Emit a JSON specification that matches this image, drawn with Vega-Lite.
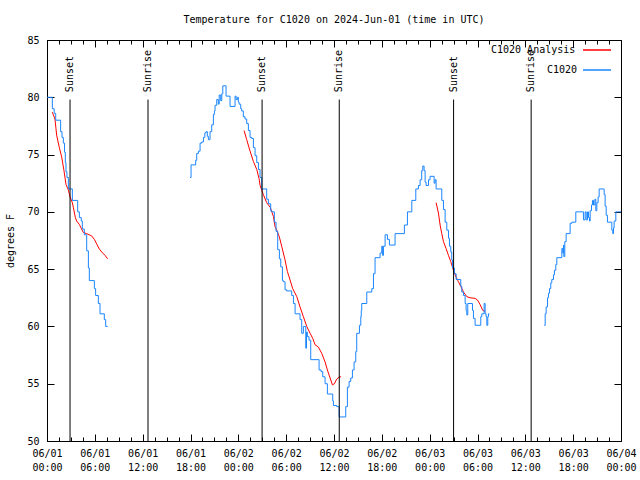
{
"$schema": "https://vega.github.io/schema/vega-lite/v6.json",
"autosize": {"type": "none"},
"padding": {"left": 47, "top": 40, "right": 19, "bottom": 39},
"width": 574,
"height": 401,
"background": "white",
"title": {"text": "Temperature for C1020 on 2024-Jun-01 (time in UTC)", "font": "DejaVu Sans Mono", "fontSize": 10, "fontWeight": "normal", "color": "black", "anchor": "middle", "frame": "group", "offset": 10},
"config": {
  "view": {"stroke": "black", "strokeWidth": 1},
  "axis": {"labelFont": "DejaVu Sans Mono", "labelFontSize": 10, "labelColor": "black", "titleFont": "DejaVu Sans Mono", "titleFontSize": 10, "titleFontWeight": "normal", "titleColor": "black", "domainColor": "black", "tickColor": "black", "grid": false, "tickWidth": 1, "domainWidth": 1, "labelFlush": false, "labelOverlap": false},
  "legend": {"labelFont": "DejaVu Sans Mono", "labelFontSize": 10, "labelColor": "black"}
},
"datasets": {
  "sun": [
    {"h": 2.89, "ev": "Sunset"}, {"h": 12.67, "ev": "Sunrise"},
    {"h": 26.98, "ev": "Sunset"}, {"h": 36.66, "ev": "Sunrise"},
    {"h": 51.0, "ev": "Sunset"}, {"h": 60.73, "ev": "Sunrise"}
  ],
  "temps": [
    {"n":"C1020 Analysis","g":"r1","h":0.67,"t":78.7},{"n":"C1020 Analysis","g":"r1","h":1.0,"t":78.1},{"n":"C1020 Analysis","g":"r1","h":1.21,"t":76.7},{"n":"C1020 Analysis","g":"r1","h":1.55,"t":75.6},{"n":"C1020 Analysis","g":"r1","h":1.84,"t":74.8},{"n":"C1020 Analysis","g":"r1","h":2.13,"t":73.6},{"n":"C1020 Analysis","g":"r1","h":2.38,"t":72.4},{"n":"C1020 Analysis","g":"r1","h":2.68,"t":71.9},{"n":"C1020 Analysis","g":"r1","h":2.89,"t":71.3},{"n":"C1020 Analysis","g":"r1","h":3.18,"t":70.8},{"n":"C1020 Analysis","g":"r1","h":3.3,"t":70.4},{"n":"C1020 Analysis","g":"r1","h":3.56,"t":69.5},{"n":"C1020 Analysis","g":"r1","h":3.72,"t":69.2},{"n":"C1020 Analysis","g":"r1","h":4.06,"t":68.9},{"n":"C1020 Analysis","g":"r1","h":4.27,"t":68.6},{"n":"C1020 Analysis","g":"r1","h":4.56,"t":68.2},{"n":"C1020 Analysis","g":"r1","h":4.98,"t":68.1},{"n":"C1020 Analysis","g":"r1","h":5.6,"t":67.9},{"n":"C1020 Analysis","g":"r1","h":5.94,"t":67.6},{"n":"C1020 Analysis","g":"r1","h":6.23,"t":67.2},{"n":"C1020 Analysis","g":"r1","h":6.57,"t":66.75},{"n":"C1020 Analysis","g":"r1","h":6.86,"t":66.5},{"n":"C1020 Analysis","g":"r1","h":7.28,"t":66.2},{"n":"C1020 Analysis","g":"r1","h":7.61,"t":65.9},
    {"n":"C1020 Analysis","g":"r2","h":24.72,"t":77.1},{"n":"C1020 Analysis","g":"r2","h":25.05,"t":76.3},{"n":"C1020 Analysis","g":"r2","h":25.47,"t":75.3},{"n":"C1020 Analysis","g":"r2","h":25.89,"t":74.4},{"n":"C1020 Analysis","g":"r2","h":26.31,"t":73.7},{"n":"C1020 Analysis","g":"r2","h":26.6,"t":72.9},{"n":"C1020 Analysis","g":"r2","h":26.73,"t":72.3},{"n":"C1020 Analysis","g":"r2","h":27.14,"t":71.5},{"n":"C1020 Analysis","g":"r2","h":27.56,"t":70.8},{"n":"C1020 Analysis","g":"r2","h":28.0,"t":70.4},{"n":"C1020 Analysis","g":"r2","h":28.4,"t":69.6},{"n":"C1020 Analysis","g":"r2","h":28.61,"t":68.7},{"n":"C1020 Analysis","g":"r2","h":28.82,"t":68.4},{"n":"C1020 Analysis","g":"r2","h":29.15,"t":67.8},{"n":"C1020 Analysis","g":"r2","h":29.44,"t":67.0},{"n":"C1020 Analysis","g":"r2","h":29.86,"t":65.8},{"n":"C1020 Analysis","g":"r2","h":30.15,"t":64.8},{"n":"C1020 Analysis","g":"r2","h":30.49,"t":64.05},{"n":"C1020 Analysis","g":"r2","h":30.82,"t":63.3},{"n":"C1020 Analysis","g":"r2","h":31.33,"t":62.6},{"n":"C1020 Analysis","g":"r2","h":31.74,"t":61.7},{"n":"C1020 Analysis","g":"r2","h":32.16,"t":60.85},{"n":"C1020 Analysis","g":"r2","h":32.58,"t":60.0},{"n":"C1020 Analysis","g":"r2","h":33.0,"t":59.4},{"n":"C1020 Analysis","g":"r2","h":33.33,"t":58.96},{"n":"C1020 Analysis","g":"r2","h":33.63,"t":58.4},{"n":"C1020 Analysis","g":"r2","h":34.04,"t":58.2},{"n":"C1020 Analysis","g":"r2","h":34.46,"t":57.65},{"n":"C1020 Analysis","g":"r2","h":34.88,"t":56.9},{"n":"C1020 Analysis","g":"r2","h":35.17,"t":56.2},{"n":"C1020 Analysis","g":"r2","h":35.51,"t":55.5},{"n":"C1020 Analysis","g":"r2","h":35.8,"t":54.9},{"n":"C1020 Analysis","g":"r2","h":36.05,"t":55.0},{"n":"C1020 Analysis","g":"r2","h":36.34,"t":55.4},{"n":"C1020 Analysis","g":"r2","h":36.68,"t":55.6},{"n":"C1020 Analysis","g":"r2","h":36.89,"t":55.6},
    {"n":"C1020 Analysis","g":"r3","h":48.81,"t":70.8},{"n":"C1020 Analysis","g":"r3","h":49.1,"t":69.9},{"n":"C1020 Analysis","g":"r3","h":49.31,"t":68.85},{"n":"C1020 Analysis","g":"r3","h":49.52,"t":68.1},{"n":"C1020 Analysis","g":"r3","h":49.73,"t":67.4},{"n":"C1020 Analysis","g":"r3","h":50.06,"t":66.8},{"n":"C1020 Analysis","g":"r3","h":50.36,"t":66.2},{"n":"C1020 Analysis","g":"r3","h":50.65,"t":65.65},{"n":"C1020 Analysis","g":"r3","h":50.98,"t":64.9},{"n":"C1020 Analysis","g":"r3","h":51.32,"t":64.3},{"n":"C1020 Analysis","g":"r3","h":51.61,"t":63.9},{"n":"C1020 Analysis","g":"r3","h":51.9,"t":63.5},{"n":"C1020 Analysis","g":"r3","h":52.24,"t":63.0},{"n":"C1020 Analysis","g":"r3","h":52.66,"t":62.6},{"n":"C1020 Analysis","g":"r3","h":53.07,"t":62.5},{"n":"C1020 Analysis","g":"r3","h":53.7,"t":62.45},{"n":"C1020 Analysis","g":"r3","h":54.0,"t":62.3},{"n":"C1020 Analysis","g":"r3","h":54.33,"t":61.9},{"n":"C1020 Analysis","g":"r3","h":54.66,"t":61.4},{"n":"C1020 Analysis","g":"r3","h":54.96,"t":61.3},
    {"n":"C1020","g":"b1","h":0,"t":80},{"n":"C1020","g":"b1","h":0.67,"t":79},{"n":"C1020","g":"b1","h":0.9,"t":78.6},{"n":"C1020","g":"b1","h":1.09,"t":78},{"n":"C1020","g":"b1","h":1.71,"t":77},{"n":"C1020","g":"b1","h":1.88,"t":76.5},{"n":"C1020","g":"b1","h":2.05,"t":76},{"n":"C1020","g":"b1","h":2.2,"t":75.2},{"n":"C1020","g":"b1","h":2.3,"t":74.3},{"n":"C1020","g":"b1","h":2.38,"t":73.5},{"n":"C1020","g":"b1","h":2.5,"t":73},{"n":"C1020","g":"b1","h":2.68,"t":72},{"n":"C1020","g":"b1","h":3.18,"t":71},{"n":"C1020","g":"b1","h":3.85,"t":70},{"n":"C1020","g":"b1","h":4.06,"t":69.5},{"n":"C1020","g":"b1","h":4.3,"t":69.2},{"n":"C1020","g":"b1","h":4.43,"t":68.5},{"n":"C1020","g":"b1","h":4.68,"t":68},{"n":"C1020","g":"b1","h":4.98,"t":66.6},{"n":"C1020","g":"b1","h":5.19,"t":65.1},{"n":"C1020","g":"b1","h":5.31,"t":64},{"n":"C1020","g":"b1","h":5.94,"t":63.3},{"n":"C1020","g":"b1","h":6.1,"t":62.7},{"n":"C1020","g":"b1","h":6.44,"t":62},{"n":"C1020","g":"b1","h":6.65,"t":61.1},{"n":"C1020","g":"b1","h":7.19,"t":60.6},{"n":"C1020","g":"b1","h":7.36,"t":60},{"n":"C1020","g":"b1","h":7.61,"t":60},
    {"n":"C1020","g":"b2","h":17.94,"t":73},{"n":"C1020","g":"b2","h":18.07,"t":74.1},{"n":"C1020","g":"b2","h":18.65,"t":74.5},{"n":"C1020","g":"b2","h":18.78,"t":75.1},{"n":"C1020","g":"b2","h":18.99,"t":75.3},{"n":"C1020","g":"b2","h":19.2,"t":76},{"n":"C1020","g":"b2","h":19.41,"t":76.1},{"n":"C1020","g":"b2","h":19.62,"t":76.5},{"n":"C1020","g":"b2","h":19.8,"t":76.9},{"n":"C1020","g":"b2","h":19.95,"t":77},{"n":"C1020","g":"b2","h":20.11,"t":76.6},{"n":"C1020","g":"b2","h":20.24,"t":76.3},{"n":"C1020","g":"b2","h":20.45,"t":77},{"n":"C1020","g":"b2","h":20.66,"t":77.6},{"n":"C1020","g":"b2","h":20.87,"t":78.5},{"n":"C1020","g":"b2","h":21.0,"t":78.8},{"n":"C1020","g":"b2","h":21.08,"t":79.3},{"n":"C1020","g":"b2","h":21.29,"t":79.8},{"n":"C1020","g":"b2","h":21.49,"t":79.4},{"n":"C1020","g":"b2","h":21.6,"t":80.2},{"n":"C1020","g":"b2","h":21.79,"t":79.7},{"n":"C1020","g":"b2","h":21.92,"t":80.3},{"n":"C1020","g":"b2","h":22.05,"t":81},{"n":"C1020","g":"b2","h":22.46,"t":80.1},{"n":"C1020","g":"b2","h":22.96,"t":79.2},{"n":"C1020","g":"b2","h":23.59,"t":80.1},{"n":"C1020","g":"b2","h":23.72,"t":79.8},{"n":"C1020","g":"b2","h":23.88,"t":80},{"n":"C1020","g":"b2","h":24.0,"t":79.6},{"n":"C1020","g":"b2","h":24.09,"t":79.4},{"n":"C1020","g":"b2","h":24.3,"t":79},{"n":"C1020","g":"b2","h":24.42,"t":78.8},{"n":"C1020","g":"b2","h":24.63,"t":78.3},{"n":"C1020","g":"b2","h":24.84,"t":78.1},{"n":"C1020","g":"b2","h":25.05,"t":77.7},{"n":"C1020","g":"b2","h":25.26,"t":77.1},{"n":"C1020","g":"b2","h":25.47,"t":76.5},{"n":"C1020","g":"b2","h":25.68,"t":76.4},{"n":"C1020","g":"b2","h":25.89,"t":75.6},{"n":"C1020","g":"b2","h":26.1,"t":74.9},{"n":"C1020","g":"b2","h":26.31,"t":74.3},{"n":"C1020","g":"b2","h":26.52,"t":73.7},{"n":"C1020","g":"b2","h":26.72,"t":73},{"n":"C1020","g":"b2","h":26.93,"t":72},{"n":"C1020","g":"b2","h":27.56,"t":71.1},{"n":"C1020","g":"b2","h":27.77,"t":70.7},{"n":"C1020","g":"b2","h":28.06,"t":70.1},{"n":"C1020","g":"b2","h":28.19,"t":70},{"n":"C1020","g":"b2","h":28.52,"t":69.1},{"n":"C1020","g":"b2","h":28.73,"t":68.3},{"n":"C1020","g":"b2","h":28.94,"t":66.7},{"n":"C1020","g":"b2","h":29.15,"t":65.9},{"n":"C1020","g":"b2","h":29.32,"t":65.2},{"n":"C1020","g":"b2","h":29.53,"t":64},{"n":"C1020","g":"b2","h":29.65,"t":63.9},{"n":"C1020","g":"b2","h":29.86,"t":63.2},{"n":"C1020","g":"b2","h":30.07,"t":63.1},{"n":"C1020","g":"b2","h":30.7,"t":62.7},{"n":"C1020","g":"b2","h":30.91,"t":62},{"n":"C1020","g":"b2","h":31.12,"t":61.1},{"n":"C1020","g":"b2","h":31.74,"t":60.6},{"n":"C1020","g":"b2","h":31.95,"t":59.4},{"n":"C1020","g":"b2","h":32.16,"t":60},{"n":"C1020","g":"b2","h":32.46,"t":58.1},{"n":"C1020","g":"b2","h":32.55,"t":59.5},{"n":"C1020","g":"b2","h":32.66,"t":59.1},{"n":"C1020","g":"b2","h":32.87,"t":58.8},{"n":"C1020","g":"b2","h":33.08,"t":57.1},{"n":"C1020","g":"b2","h":34.13,"t":56.2},{"n":"C1020","g":"b2","h":34.38,"t":56.05},{"n":"C1020","g":"b2","h":34.59,"t":55.6},{"n":"C1020","g":"b2","h":34.88,"t":55},{"n":"C1020","g":"b2","h":35.17,"t":54.1},{"n":"C1020","g":"b2","h":35.84,"t":53.5},{"n":"C1020","g":"b2","h":35.93,"t":53.1},{"n":"C1020","g":"b2","h":36.34,"t":53},{"n":"C1020","g":"b2","h":36.64,"t":52.1},{"n":"C1020","g":"b2","h":37.47,"t":53},{"n":"C1020","g":"b2","h":37.68,"t":54.7},{"n":"C1020","g":"b2","h":37.89,"t":55.2},{"n":"C1020","g":"b2","h":38.1,"t":55.5},{"n":"C1020","g":"b2","h":38.31,"t":56.2},{"n":"C1020","g":"b2","h":38.52,"t":56.9},{"n":"C1020","g":"b2","h":38.73,"t":57.8},{"n":"C1020","g":"b2","h":38.85,"t":59.4},{"n":"C1020","g":"b2","h":39.19,"t":60.1},{"n":"C1020","g":"b2","h":39.36,"t":60.85},{"n":"C1020","g":"b2","h":39.42,"t":61.4},{"n":"C1020","g":"b2","h":39.48,"t":62},{"n":"C1020","g":"b2","h":40.11,"t":63},{"n":"C1020","g":"b2","h":40.74,"t":63.3},{"n":"C1020","g":"b2","h":40.95,"t":64.6},{"n":"C1020","g":"b2","h":41.15,"t":66},{"n":"C1020","g":"b2","h":41.78,"t":66.4},{"n":"C1020","g":"b2","h":41.99,"t":67},{"n":"C1020","g":"b2","h":42.1,"t":66.2},{"n":"C1020","g":"b2","h":42.2,"t":67},{"n":"C1020","g":"b2","h":42.41,"t":68},{"n":"C1020","g":"b2","h":42.7,"t":67.6},{"n":"C1020","g":"b2","h":42.95,"t":67.1},{"n":"C1020","g":"b2","h":43.66,"t":68.1},{"n":"C1020","g":"b2","h":44.83,"t":68.85},{"n":"C1020","g":"b2","h":45.21,"t":70},{"n":"C1020","g":"b2","h":45.76,"t":71},{"n":"C1020","g":"b2","h":46.26,"t":72},{"n":"C1020","g":"b2","h":46.59,"t":72.3},{"n":"C1020","g":"b2","h":46.8,"t":72.8},{"n":"C1020","g":"b2","h":47.0,"t":73.6},{"n":"C1020","g":"b2","h":47.14,"t":74},{"n":"C1020","g":"b2","h":47.3,"t":73.6},{"n":"C1020","g":"b2","h":47.43,"t":72.6},{"n":"C1020","g":"b2","h":47.55,"t":72.3},{"n":"C1020","g":"b2","h":47.85,"t":72.8},{"n":"C1020","g":"b2","h":48.05,"t":73.1},{"n":"C1020","g":"b2","h":48.56,"t":72.5},{"n":"C1020","g":"b2","h":48.68,"t":72.8},{"n":"C1020","g":"b2","h":48.81,"t":72},{"n":"C1020","g":"b2","h":49.52,"t":71},{"n":"C1020","g":"b2","h":49.73,"t":70.2},{"n":"C1020","g":"b2","h":49.94,"t":69.1},{"n":"C1020","g":"b2","h":50.15,"t":68.4},{"n":"C1020","g":"b2","h":50.36,"t":67.7},{"n":"C1020","g":"b2","h":50.48,"t":67},{"n":"C1020","g":"b2","h":50.65,"t":66.5},{"n":"C1020","g":"b2","h":50.77,"t":65.8},{"n":"C1020","g":"b2","h":50.86,"t":65.1},{"n":"C1020","g":"b2","h":51.1,"t":64.6},{"n":"C1020","g":"b2","h":51.32,"t":64.1},{"n":"C1020","g":"b2","h":51.9,"t":63.5},{"n":"C1020","g":"b2","h":52.03,"t":63},{"n":"C1020","g":"b2","h":52.24,"t":62.7},{"n":"C1020","g":"b2","h":52.45,"t":62},{"n":"C1020","g":"b2","h":52.57,"t":61.4},{"n":"C1020","g":"b2","h":52.66,"t":61},{"n":"C1020","g":"b2","h":52.78,"t":62},{"n":"C1020","g":"b2","h":53.37,"t":61.4},{"n":"C1020","g":"b2","h":53.49,"t":60.7},{"n":"C1020","g":"b2","h":53.7,"t":60.1},{"n":"C1020","g":"b2","h":54.41,"t":60.85},{"n":"C1020","g":"b2","h":54.54,"t":61.1},{"n":"C1020","g":"b2","h":54.83,"t":62},{"n":"C1020","g":"b2","h":54.96,"t":61.1},{"n":"C1020","g":"b2","h":55.08,"t":60.85},{"n":"C1020","g":"b2","h":55.17,"t":60.1},{"n":"C1020","g":"b2","h":55.29,"t":60.85},{"n":"C1020","g":"b2","h":55.37,"t":61.1},{"n":"C1020","g":"b2","h":55.5,"t":61.1},
    {"n":"C1020","g":"b3","h":62.36,"t":60.1},{"n":"C1020","g":"b3","h":62.49,"t":61.1},{"n":"C1020","g":"b3","h":62.61,"t":61.7},{"n":"C1020","g":"b3","h":62.78,"t":62.5},{"n":"C1020","g":"b3","h":62.9,"t":62.9},{"n":"C1020","g":"b3","h":63.03,"t":63.3},{"n":"C1020","g":"b3","h":63.19,"t":63.8},{"n":"C1020","g":"b3","h":63.32,"t":64.1},{"n":"C1020","g":"b3","h":63.53,"t":64.5},{"n":"C1020","g":"b3","h":63.65,"t":64.9},{"n":"C1020","g":"b3","h":63.82,"t":65.4},{"n":"C1020","g":"b3","h":63.95,"t":66},{"n":"C1020","g":"b3","h":64.58,"t":66.8},{"n":"C1020","g":"b3","h":64.7,"t":66.4},{"n":"C1020","g":"b3","h":64.78,"t":67.1},{"n":"C1020","g":"b3","h":64.83,"t":66.1},{"n":"C1020","g":"b3","h":64.95,"t":67.4},{"n":"C1020","g":"b3","h":65.12,"t":68.1},{"n":"C1020","g":"b3","h":65.62,"t":69},{"n":"C1020","g":"b3","h":65.83,"t":69.1},{"n":"C1020","g":"b3","h":66.33,"t":70},{"n":"C1020","g":"b3","h":67.29,"t":69.3},{"n":"C1020","g":"b3","h":67.5,"t":70},{"n":"C1020","g":"b3","h":67.63,"t":69.3},{"n":"C1020","g":"b3","h":67.8,"t":70},{"n":"C1020","g":"b3","h":67.92,"t":69.5},{"n":"C1020","g":"b3","h":68.05,"t":69.2},{"n":"C1020","g":"b3","h":68.13,"t":70.1},{"n":"C1020","g":"b3","h":68.3,"t":70.6},{"n":"C1020","g":"b3","h":68.42,"t":71},{"n":"C1020","g":"b3","h":68.55,"t":70.6},{"n":"C1020","g":"b3","h":68.72,"t":71.1},{"n":"C1020","g":"b3","h":68.84,"t":70.1},{"n":"C1020","g":"b3","h":68.97,"t":70.8},{"n":"C1020","g":"b3","h":69.13,"t":71.3},{"n":"C1020","g":"b3","h":69.26,"t":72},{"n":"C1020","g":"b3","h":69.8,"t":72},{"n":"C1020","g":"b3","h":69.89,"t":71.5},{"n":"C1020","g":"b3","h":70.01,"t":70.5},{"n":"C1020","g":"b3","h":70.14,"t":69.7},{"n":"C1020","g":"b3","h":70.3,"t":69.1},{"n":"C1020","g":"b3","h":70.85,"t":68.4},{"n":"C1020","g":"b3","h":70.97,"t":68.1},{"n":"C1020","g":"b3","h":71.06,"t":68.6},{"n":"C1020","g":"b3","h":71.14,"t":69.2},{"n":"C1020","g":"b3","h":71.35,"t":70},{"n":"C1020","g":"b3","h":71.56,"t":70},{"n":"C1020","g":"b3","h":72,"t":70}
  ]
},
"layer": [
  {
    "data": {"name": "temps"},
    "transform": [{"filter": "datum.n === 'C1020 Analysis'"}],
    "mark": {"type": "line", "strokeWidth": 1, "interpolate": "linear"},
    "encoding": {
      "x": {"field": "h", "type": "quantitative", "scale": {"domain": [0, 72], "nice": false, "zero": false},
            "axis": {"orient": "bottom", "values": [0,6,12,18,24,30,36,42,48,54,60,66,72], "labelExpr": "['06/0' + (1 + floor(datum.value / 24)), (datum.value % 24 < 10 ? '0' : '') + (datum.value % 24) + ':00']", "tickSize": -7, "labelPadding": 14, "labelBaseline": "top", "labelLineHeight": 14, "title": null}},
      "y": {"field": "t", "type": "quantitative", "scale": {"domain": [50, 85], "nice": false, "zero": false},
            "axis": {"orient": "left", "values": [50,55,60,65,70,75,80,85], "tickSize": -7, "labelPadding": 15, "title": "degrees F", "titleX": -37, "titleY": 200.5, "titleAngle": 270, "titleAlign": "center", "titleBaseline": "middle"}},
      "color": {"field": "n", "type": "nominal", "scale": {"domain": ["C1020 Analysis", "C1020"], "range": ["#ff0000", "#1a85ff"]},
                "legend": {"orient": "none", "legendX": 443, "legendY": -5, "title": null, "symbolType": "stroke", "symbolSize": 784, "symbolStrokeWidth": 1.5, "symbolOffset": 92, "labelOffset": -121, "labelAlign": "left", "labelExpr": "datum.label === 'C1020' ? '\u2800\u2800\u2800\u2800\u2800\u2800\u2800\u2800C1020' : datum.label", "labelLimit": 200, "rowPadding": -12, "padding": 0}},
      "detail": {"field": "g"}
    }
  },
  {
    "data": {"name": "temps"},
    "transform": [{"filter": "datum.n === 'C1020'"}],
    "mark": {"type": "line", "strokeWidth": 1, "interpolate": "step-after"},
    "encoding": {
      "x": {"field": "h", "type": "quantitative", "axis": {"orient": "top", "values": [0,6,12,18,24,30,36,42,48,54,60,66,72], "labels": false, "tickSize": -7, "title": null}},
      "y": {"field": "t", "type": "quantitative", "axis": {"orient": "right", "values": [50,55,60,65,70,75,80,85], "labels": false, "tickSize": -7, "title": null}},
      "color": {"field": "n", "type": "nominal"},
      "detail": {"field": "g"}
    }
  },
  {
    "data": {"name": "sun"},
    "mark": {"type": "rule", "color": "black", "strokeWidth": 1},
    "encoding": {
      "x": {"field": "h", "type": "quantitative", "axis": {"orient": "bottom", "values": [1.5,3,4.5,7.5,9,10.5,13.5,15,16.5,19.5,21,22.5,25.5,27,28.5,31.5,33,34.5,37.5,39,40.5,43.5,45,46.5,49.5,51,52.5,55.5,57,58.5,61.5,63,64.5,67.5,69,70.5], "labels": false, "domain": false, "tickSize": -4, "title": null}},
      "y": {"datum": 79.8, "type": "quantitative", "axis": null},
      "y2": {"datum": 50}
    }
  },
  {
    "data": {"name": "sun"},
    "mark": {"type": "text", "font": "DejaVu Sans Mono", "fontSize": 10, "angle": 270, "align": "left", "baseline": "middle", "color": "black"},
    "encoding": {
      "x": {"field": "h", "type": "quantitative", "axis": {"orient": "top", "values": [1.5,3,4.5,7.5,9,10.5,13.5,15,16.5,19.5,21,22.5,25.5,27,28.5,31.5,33,34.5,37.5,39,40.5,43.5,45,46.5,49.5,51,52.5,55.5,57,58.5,61.5,63,64.5,67.5,69,70.5], "labels": false, "domain": false, "tickSize": -4, "title": null}},
      "y": {"datum": 80.45, "type": "quantitative", "axis": null},
      "text": {"field": "ev"}
    }
  }
]
}
